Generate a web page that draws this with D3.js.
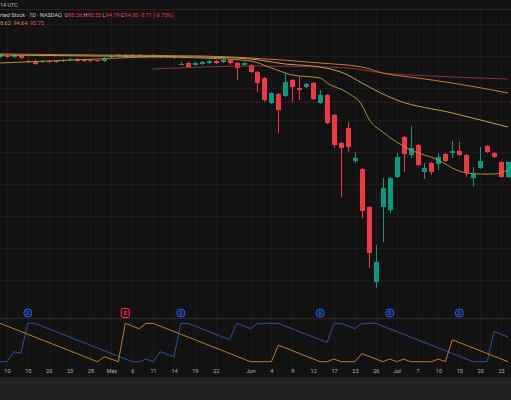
<!DOCTYPE html>
<html>
<head>
<meta charset="utf-8">
<script src="https://cdn.jsdelivr.net/npm/d3@7"></script>
<style>
  body { margin: 0; background: #121212; }
  svg { display: block; font-family: Roboto, "Noto Sans", sans-serif; }
</style>
</head>
<body>
<div class="chart"></div>
<script>
// daily bars, index -> [open, high, low, close]
let candles = [
  [95.3, 95.6, 95.2, 95.5], [95.4, 95.5, 95.2, 95.3], [95.3, 95.6, 95.2, 95.5], [95.4, 95.5, 95.1, 95.2],
  [94.9, 95.0, 94.7, 94.8], [94.9, 95.0, 94.5, 94.6], [94.8, 95.0, 94.7, 94.9], [94.9, 95.0, 94.7, 94.8],
  [94.9, 94.9, 94.7, 94.8], [94.9, 95.1, 94.8, 95.0], [95.0, 95.2, 94.9, 95.1], [95.1, 95.2, 94.8, 94.9],
  [95.0, 95.1, 94.8, 94.9], [95.0, 95.1, 94.8, 94.9], [95.0, 95.0, 94.8, 94.9], [94.9, 95.3, 94.8, 95.2],
  [95.3, 95.5, 95.2, 95.4], [95.5, 95.6, 95.3, 95.4], [95.3, 95.6, 95.2, 95.5], [95.4, 95.6, 95.3, 95.5],
  [95.5, 95.6, 95.3, 95.4], [95.3, 95.5, 95.2, 95.4], [95.3, 95.6, 95.2, 95.5], [95.4, 95.5, 95.2, 95.3],
  [95.3, 95.5, 95.2, 95.4], [95.3, 95.4, 95.1, 95.2], [94.55, 94.8, 94.5, 94.6], [94.7, 94.8, 94.2, 94.3],
  [94.5, 94.8, 94.4, 94.7], [94.6, 94.9, 94.5, 94.8], [94.7, 95.0, 94.6, 94.9], [94.9, 95.0, 94.6, 94.7],
  [94.8, 95.1, 94.7, 95.0], [95.0, 95.1, 94.5, 94.7], [94.7, 94.8, 93.0, 94.2], [94.5, 94.8, 94.4, 94.7],
  [94.5, 94.6, 93.7, 93.8], [93.8, 93.9, 91.8, 92.7], [93.2, 93.3, 90.8, 91.0], [90.7, 91.8, 90.6, 91.7],
  [91.6, 91.7, 87.7, 90.0], [91.4, 93.7, 91.3, 92.8], [93.0, 93.1, 90.8, 92.3], [92.2, 93.3, 91.0, 92.0],
  [92.3, 92.7, 92.2, 92.6], [92.7, 92.8, 91.0, 91.1], [90.7, 92.0, 90.6, 91.5], [91.5, 91.6, 88.6, 88.7],
  [89.5, 89.6, 86.2, 86.5], [86.7, 86.8, 81.3, 86.2], [88.2, 88.8, 85.8, 86.3], [84.9, 85.8, 84.7, 85.2],
  [84.1, 84.2, 79.2, 79.9], [80.3, 80.4, 74.2, 75.7], [72.8, 76.5, 72.2, 74.8], [80.3, 83.2, 76.8, 82.2],
  [80.0, 83.3, 79.7, 83.2], [83.3, 85.7, 83.2, 85.3], [87.3, 87.4, 83.8, 85.6], [85.5, 88.4, 85.2, 86.2],
  [86.5, 86.6, 84.4, 84.5], [83.8, 84.7, 83.1, 84.2], [84.7, 84.8, 83.5, 83.8], [84.6, 85.7, 84.0, 85.3],
  [85.6, 85.7, 84.8, 84.9], [85.7, 86.9, 85.2, 85.9], [85.9, 86.8, 85.4, 85.5], [85.5, 85.6, 83.3, 83.7],
  [83.2, 84.3, 82.4, 83.6], [84.2, 86.3, 84.1, 84.9], [86.4, 86.5, 85.7, 85.8], [85.7, 85.8, 85.2, 85.3],
  [84.8, 84.9, 83.2, 83.3], [83.3, 84.9, 83.2, 84.8]
];

// date labels on the time axis: [bar index, text]
let tickLabels = [
  [1, "10"], [4, "15"], [7, "20"], [10, "23"], [13, "28"], [16, "May"], [19, "6"], [22, "11"],
  [25, "14"], [28, "19"], [31, "22"], [36, "Jun"], [39, "4"], [42, "9"], [45, "12"], [48, "17"],
  [51, "23"], [54, "26"], [57, "Jul"], [60, "7"], [63, "10"], [66, "15"], [69, "20"], [72, "23"]
];

// moving averages [bar index, price]
let maFast = [[0, 94.7], [7, 94.9], [14, 95.1], [22, 95.3], [29, 95.2], [36, 94.9], [39, 94.2], [42, 93.5],
  [46, 93.2], [47, 92.7], [50, 91.7], [52, 90.5], [53, 89.1], [55, 87.8], [57, 86.8], [59, 86.0],
  [61, 85.5], [63, 85.0], [65, 84.2], [67, 83.7], [69, 83.6], [71, 83.6], [73, 84.0]];
let maMid = [[0, 95.5], [14, 95.4], [29, 95.3], [36, 95.1], [41, 94.6], [46, 94.3], [50, 93.5],
  [52, 92.7], [57, 91.0], [65, 89.7], [73, 88.3]];
let maSlow = [[0, 95.6], [14, 95.5], [29, 95.4], [36, 95.2], [46, 94.7], [52, 94.3], [55, 93.7],
  [60, 93.2], [65, 92.7], [73, 91.7]];
let maLong = [[22, 94.1], [37, 94.4], [46, 94.3], [50, 94.2], [55, 93.7], [62, 93.4], [73, 93.1]];
let priceLine = 90.8;

// aroon pane, [bar index, value 0-100]
let aroonDown = [[0, 0], [1, 0], [2, 26], [3, 22], [4, 100], [5, 100], [19, 0], [20, 0], [21, 7], [22, 0],
  [23, 26], [25, 13], [26, 100], [27, 100], [33, 57], [34, 100], [36, 86], [37, 100], [40, 100], [47, 50],
  [48, 100], [49, 100], [51, 86], [52, 100], [54, 100], [68, 0], [70, 0], [71, 79], [73, 64]];
let aroonUp = [[0, 100], [14, 0], [15, 13], [17, 0], [18, 100], [20, 86], [21, 100], [22, 100], [36, 0],
  [39, 0], [40, 43], [46, 0], [47, 0], [48, 7], [49, 0], [51, 0], [52, 21], [54, 7], [55, 0], [56, 7],
  [57, 0], [58, 7], [59, 0], [62, 0], [63, 7], [64, 0], [65, 57], [73, 0]];

// event flags: [bar index, kind]
let events = [[4, "D"], [18, "E"], [26, "D"], [46, "D"], [56, "D"], [66, "D"]];

let width = 511, height = 400;
let paneTop = 10, paneBottom = 318, axisY = 367;

let svg = d3.select(".chart").append("svg")
  .attr("width", width)
  .attr("height", height);

svg.append("rect").attr("width", width).attr("height", height).attr("fill", "#121212");
svg.append("rect").attr("y", 377).attr("width", width).attr("height", 23).attr("fill", "#222222");

let x = d3.scaleLinear().domain([0, 73]).range([0, 508]);
let y = d3.scaleLinear().domain([70, 100]).range([310, 10]);
let ya = d3.scaleLinear().domain([0, 100]).range([361.7, 323.3]);

// grid
let gridPrices = [98.6, 95.4, 92.2, 89.0, 85.8, 82.6, 79.4, 76.2, 73.0];
svg.append("g").selectAll("line").data(gridPrices).enter().append("line")
  .attr("x1", 0).attr("x2", width)
  .attr("y1", (d) => Math.round(y(d)) + 0.5).attr("y2", (d) => Math.round(y(d)) + 0.5)
  .attr("stroke", "#1c1c1c");
svg.append("g").selectAll("line").data(tickLabels).enter().append("line")
  .attr("x1", (d) => Math.round(x(d[0])) + 0.5).attr("x2", (d) => Math.round(x(d[0])) + 0.5)
  .attr("y1", paneTop).attr("y2", axisY)
  .attr("stroke", "#1a1a1a");

// header strip
svg.append("line").attr("x1", 0).attr("x2", width).attr("y1", 9.5).attr("y2", 9.5).attr("stroke", "#262626");
svg.append("text").attr("x", 0).attr("y", 6.5).attr("font-size", 5.5).attr("fill", "#b2b5be").text("14 UTC");

// pane separator
svg.append("line").attr("x1", 0).attr("x2", width)
  .attr("y1", paneBottom + 0.5).attr("y2", paneBottom + 0.5).attr("stroke", "#2a2a2a");

let main = svg.append("g");
svg.append("clipPath").attr("id", "pane").append("rect")
  .attr("x", 0).attr("y", paneTop).attr("width", width).attr("height", paneBottom - paneTop);
main.attr("clip-path", "url(#pane)");

// price line
main.append("line").attr("x1", 0).attr("x2", width)
  .attr("y1", y(priceLine)).attr("y2", y(priceLine))
  .attr("stroke", "#6b2029").attr("stroke-dasharray", "1,1");

let maLine = d3.line().x((d) => x(d[0])).y((d) => y(d[1])).curve(d3.curveMonotoneX);
let mas = [
  { data: maLong, color: "#8e2f35" },
  { data: maSlow, color: "#c8792f" },
  { data: maMid, color: "#c49a55" },
  { data: maFast, color: "#a8932c" }
];

// candles
let up = "#089981", down = "#f23645";
let bars = main.append("g").selectAll("g").data(candles).enter().append("g");
bars.append("line")
  .attr("x1", (d, i) => Math.round(x(i)) + 0.5).attr("x2", (d, i) => Math.round(x(i)) + 0.5)
  .attr("y1", (d) => y(d[1])).attr("y2", (d) => y(d[2]))
  .attr("stroke", (d) => (d[3] >= d[0] ? up : down));
bars.append("rect")
  .attr("x", (d, i) => Math.round(x(i)) - 2)
  .attr("width", 5)
  .attr("y", (d) => y(Math.max(d[0], d[3])))
  .attr("height", (d) => Math.max(1, Math.abs(y(d[0]) - y(d[3]))))
  .attr("fill", (d) => (d[3] >= d[0] ? up : down));

main.append("g").selectAll("path").data(mas).enter().append("path")
  .attr("d", (d) => maLine(d.data))
  .attr("fill", "none")
  .attr("stroke", (d) => d.color)
  .attr("stroke-width", 1);

// event flags
let flags = svg.append("g").selectAll("g").data(events).enter().append("g")
  .attr("transform", (d) => `translate(${x(d[0])}, 313)`);
flags.filter((d) => d[1] === "D").append("circle")
  .attr("r", 4).attr("fill", "#101b38").attr("stroke", "#2962ff");
flags.filter((d) => d[1] === "E").append("rect")
  .attr("x", -4).attr("y", -4.5).attr("width", 8).attr("height", 9).attr("rx", 2)
  .attr("fill", "#3a1016").attr("stroke", "#f23645");
flags.append("text")
  .attr("text-anchor", "middle").attr("dy", "0.35em")
  .attr("font-size", 4.5).attr("font-weight", "bold")
  .attr("fill", (d) => (d[1] === "E" ? "#f23645" : "#2962ff"))
  .text((d) => d[1]);

// aroon
let aLine = d3.line().x((d) => x(d[0])).y((d) => ya(d[1]));
svg.append("path").attr("d", aLine(aroonDown))
  .attr("fill", "none").attr("stroke", "#2c4da3").attr("stroke-width", 1);
svg.append("path").attr("d", aLine(aroonUp))
  .attr("fill", "none").attr("stroke", "#c27a2a").attr("stroke-width", 1);

// time axis
let xAxis = d3.axisBottom(x)
  .tickValues(tickLabels.map((d) => d[0]))
  .tickFormat((v) => tickLabels.find((d) => d[0] === v)[1])
  .tickSize(0)
  .tickPadding(2.5);
let ax = svg.append("g").attr("transform", `translate(0, ${axisY})`).call(xAxis);
ax.select(".domain").remove();
ax.selectAll("text").attr("font-size", 5.5).attr("fill", "#b2b5be").attr("font-family", "Roboto, sans-serif");

// legend
let legend1 = [
  ["rted Stock · 1D · NASDAQ", "#c9cbd1"], ["  O", "#b2b5be"], ["95.26", "#f23645"],
  [" H", "#b2b5be"], ["95.55", "#f23645"], [" L", "#b2b5be"], ["94.19", "#f23645"],
  [" C", "#b2b5be"], ["94.30", "#f23645"], [" -0.71 (-0.75%)", "#f23645"]
];
let legend2 = [["0.62", "#c9a23c"], ["  94.64", "#d0843a"], ["  95.75", "#e0525c"]];
let t1 = svg.append("text").attr("x", 0).attr("y", 16.5).attr("font-size", 5.5).attr("xml:space", "preserve");
legend1.forEach((d) => t1.append("tspan").attr("fill", d[1]).text(d[0]));
let t2 = svg.append("text").attr("x", 0).attr("y", 24.5).attr("font-size", 5.5).attr("xml:space", "preserve");
legend2.forEach((d) => t2.append("tspan").attr("fill", d[1]).text(d[0]));
</script>
</body>
</html>
